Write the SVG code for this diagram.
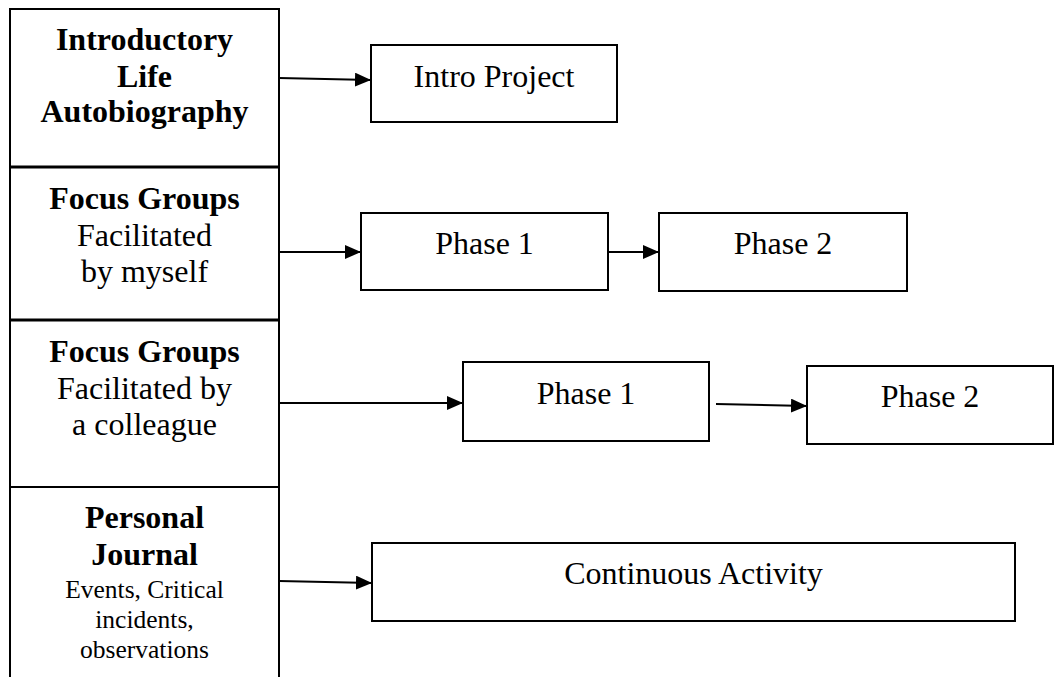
<svg xmlns="http://www.w3.org/2000/svg" width="1063" height="677" viewBox="0 0 1063 677">
  <style>
    .box { fill: #ffffff; stroke: #000000; stroke-width: 2; }
    .col { fill: none; stroke: #000000; stroke-width: 2; }
    .div { stroke: #000000; stroke-width: 3; }
    .conn { stroke: #000000; stroke-width: 2; fill: none; marker-end: url(#arrow); }
    text { font-family: "Liberation Serif", "Times New Roman", serif; fill: #000000; text-anchor: middle; }
    .b { font-size: 32px; font-weight: bold; }
    .r { font-size: 32px; }
    .s { font-size: 25.5px; }
  </style>
  <defs>
    <marker id="arrow" markerUnits="userSpaceOnUse" markerWidth="16" markerHeight="14" refX="16" refY="7" orient="auto">
      <path d="M0,0 L16,7 L0,14 Z" fill="#000000"/>
    </marker>
  </defs>
  <rect width="1063" height="677" fill="#ffffff"/>

  <!-- left column of methods -->
  <g id="column">
    <path class="col" d="M10,677 L10,9 L279,9 L279,677"/>
    <line class="div" x1="10" y1="167" x2="279" y2="167"/>
    <line class="div" x1="10" y1="320" x2="279" y2="320"/>
    <line class="col" x1="10" y1="487" x2="279" y2="487"/>
  </g>

  <g id="intro-autobiography">
    <text class="b" x="144.5" y="50">Introductory</text>
    <text class="b" x="144.5" y="87">Life</text>
    <text class="b" x="144.5" y="122">Autobiography</text>
  </g>
  <g id="focus-myself">
    <text class="b" x="144.5" y="209">Focus Groups</text>
    <text class="r" x="144.5" y="246">Facilitated</text>
    <text class="r" x="144.5" y="282">by myself</text>
  </g>
  <g id="focus-colleague">
    <text class="b" x="144.5" y="362">Focus Groups</text>
    <text class="r" x="144.5" y="399">Facilitated by</text>
    <text class="r" x="144.5" y="435">a colleague</text>
  </g>
  <g id="journal">
    <text class="b" x="144.5" y="528">Personal</text>
    <text class="b" x="144.5" y="565">Journal</text>
    <text class="s" x="144.5" y="598">Events, Critical</text>
    <text class="s" x="144.5" y="628">incidents,</text>
    <text class="s" x="144.5" y="658">observations</text>
  </g>

  <!-- activity boxes -->
  <g id="intro-project">
    <rect class="box" x="371" y="45" width="246" height="77"/>
    <text class="r" x="494" y="87">Intro Project</text>
  </g>
  <g id="myself-phase1">
    <rect class="box" x="361" y="213" width="247" height="77"/>
    <text class="r" x="484.5" y="254">Phase 1</text>
  </g>
  <g id="myself-phase2">
    <rect class="box" x="659" y="213" width="248" height="78"/>
    <text class="r" x="783" y="254">Phase 2</text>
  </g>
  <g id="colleague-phase1">
    <rect class="box" x="463" y="362" width="246" height="79"/>
    <text class="r" x="586" y="404">Phase 1</text>
  </g>
  <g id="colleague-phase2">
    <rect class="box" x="807" y="366" width="246" height="78"/>
    <text class="r" x="930" y="407">Phase 2</text>
  </g>
  <g id="continuous">
    <rect class="box" x="372" y="543" width="643" height="78"/>
    <text class="r" x="693.5" y="584">Continuous Activity</text>
  </g>

  <!-- connectors -->
  <g id="connectors">
    <line class="conn" x1="279" y1="78" x2="371" y2="80"/>
    <line class="conn" x1="279" y1="252" x2="361" y2="252"/>
    <line class="conn" x1="608" y1="252" x2="659" y2="252"/>
    <line class="conn" x1="279" y1="403" x2="463" y2="403"/>
    <line class="conn" x1="716" y1="404" x2="807" y2="406"/>
    <line class="conn" x1="279" y1="581" x2="372" y2="583"/>
  </g>
</svg>
